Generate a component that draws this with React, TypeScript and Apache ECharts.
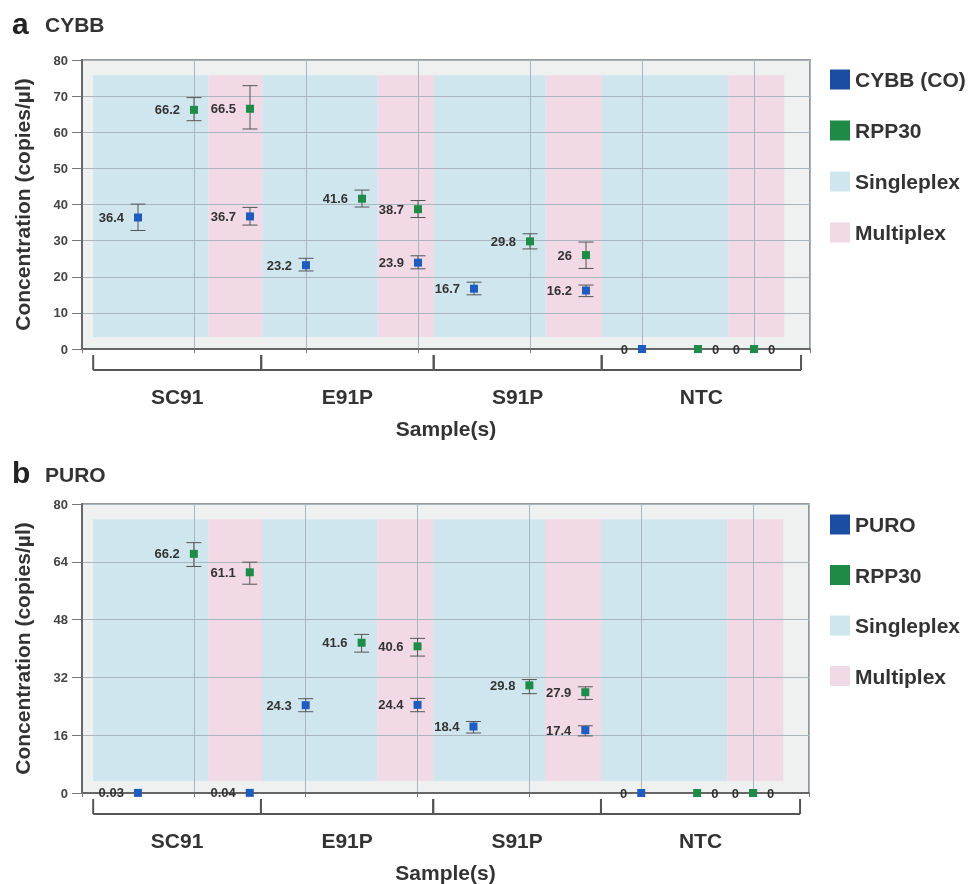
import React, { useEffect, useRef } from 'react';
import * as echarts from 'echarts';

// ---------- data ----------
const sampleNames = ['SC91', 'E91P', 'S91P', 'NTC'];
const sampleEdges = [0.1, 1.6, 3.14, 4.64, 6.42];
const singleplexBands = [[0.1, 1.13], [1.61, 2.64], [3.14, 4.14], [4.64, 5.77]];
const multiplexBands = [[1.13, 1.61], [2.64, 3.14], [4.14, 4.64], [5.77, 6.27]];
const bandRange = [3.3, 75.8];

const panelTitles = ['a', 'b'];
const panelGenes = ['CYBB', 'PURO'];
const targetNames = ['CYBB (CO)', 'PURO'];
const yIntervals = [10, 16];

// panel a: CYBB
const cybbX = [0.5, 1.5, 2, 3, 3.5, 4.5, 5, 6];
const cybbValues = [36.4, 36.7, 23.2, 23.9, 16.7, 16.2, 0, 0];
const cybbLow = [32.8, 34.3, 21.6, 22.2, 15.0, 14.5, 0, 0];
const cybbHigh = [40.1, 39.2, 25.1, 25.8, 18.5, 17.7, 0, 0];
const rppAX = [1, 1.5, 2.5, 3, 4, 4.5, 5.5, 6];
const rppAValues = [66.2, 66.5, 41.6, 38.7, 29.8, 26, 0, 0];
const rppALow = [63.2, 60.9, 39.3, 36.4, 27.7, 22.3, 0, 0];
const rppAHigh = [69.6, 72.9, 44.0, 41.1, 31.9, 29.6, 0, 0];

// panel b: PURO
const puroX = [0.5, 1.5, 2, 3, 3.5, 4.5, 5, 6];
const puroValues = [0.03, 0.04, 24.3, 24.4, 18.4, 17.4, 0, 0];
const puroLow = [0.03, 0.04, 22.5, 22.5, 16.6, 15.8, 0, 0];
const puroHigh = [0.03, 0.04, 26.1, 26.2, 19.8, 18.6, 0, 0];
const rppBX = [1, 1.5, 2.5, 3, 4, 4.5, 5.5, 6];
const rppBValues = [66.2, 61.1, 41.6, 40.6, 29.8, 27.9, 0, 0];
const rppBLow = [62.7, 57.8, 39.0, 37.9, 27.5, 25.9, 0, 0];
const rppBHigh = [69.3, 63.9, 43.9, 42.8, 31.4, 29.4, 0, 0];

// ---------- styles ----------
const FONT = "'Liberation Sans', Arial, Helvetica, sans-serif";
const NARROW = "'Liberation Sans Narrow', 'Liberation Sans', Arial, sans-serif";
const BLUE = '#1f5cbf';
const GREEN = '#1e8c48';
const LEGEND_BLUE = '#1b4ea2';
const LEGEND_GREEN = '#1f8a45';
const SINGLE_COLOR = '#d0e6ef';
const MULTI_COLOR = '#f1d9e5';
const GRID_LINE = '#a9b6bd';

const grids = [
  { left: 82, top: 60, width: 728, height: 289 },
  { left: 82, top: 504, width: 727, height: 290 },
];
const legendTops = [64, 509];

function buildPanel(i: number, tx: number[], tv: number[], tlo: number[], thi: number[], rx: number[], rv: number[], rlo: number[], rhi: number[]) {
  const labelBase = {
    show: true,
    position: 'left',
    distance: 10,
    fontSize: 13,
    fontWeight: 'bold',
    fontFamily: NARROW,
    color: '#333',
    formatter: (p: any) => String(p.value[1]),
  };
  const errData: number[][] = [];
  tx.forEach((x, k) => { if (thi[k] > tlo[k]) errData.push([x, tlo[k], thi[k]]); });
  rx.forEach((x, k) => { if (rhi[k] > rlo[k]) errData.push([x, rlo[k], rhi[k]]); });

  const bandSeries = (name: string, color: string, bands: number[][]) => ({
    type: 'scatter',
    name,
    xAxisIndex: i,
    yAxisIndex: i,
    data: [],
    z: 1,
    silent: true,
    itemStyle: { color, opacity: 1 },
    markArea: {
      silent: true,
      itemStyle: { color, borderWidth: 0, opacity: 1 },
      label: { show: false },
      data: bands.map(([a, b]) => [
        { xAxis: a, yAxis: bandRange[0] },
        { xAxis: b, yAxis: bandRange[1] },
      ]),
    },
  });

  return [
    bandSeries('Singleplex', SINGLE_COLOR, singleplexBands),
    bandSeries('Multiplex', MULTI_COLOR, multiplexBands),
    {
      type: 'custom',
      name: 'errorbars' + i,
      xAxisIndex: i,
      yAxisIndex: i,
      z: 4,
      silent: true,
      encode: { x: 0, y: [1, 2] },
      data: errData,
      renderItem: (params: any, api: any) => {
        const x = api.value(0);
        const top = api.coord([x, api.value(2)]);
        const bot = api.coord([x, api.value(1)]);
        const w = 7.5;
        const style = { stroke: '#555', lineWidth: 1 };
        return {
          type: 'group',
          children: [
            { type: 'line', shape: { x1: top[0], y1: top[1], x2: bot[0], y2: bot[1] }, style },
            { type: 'line', shape: { x1: top[0] - w, y1: top[1], x2: top[0] + w, y2: top[1] }, style },
            { type: 'line', shape: { x1: bot[0] - w, y1: bot[1], x2: bot[0] + w, y2: bot[1] }, style },
          ],
        };
      },
    },
    {
      type: 'scatter',
      name: targetNames[i],
      xAxisIndex: i,
      yAxisIndex: i,
      z: 5,
      clip: false,
      symbol: 'rect',
      symbolSize: 8,
      itemStyle: { color: BLUE, opacity: 1 },
      label: labelBase,
      data: tx.map((x, k) => [x, tv[k]]),
    },
    {
      type: 'scatter',
      name: 'RPP30',
      xAxisIndex: i,
      yAxisIndex: i,
      z: 5,
      clip: false,
      symbol: 'rect',
      symbolSize: 8,
      itemStyle: { color: GREEN, opacity: 1 },
      label: labelBase,
      data: rx.map((x, k) => (rv[k] === 0 ? { value: [x, rv[k]], label: { position: 'right' } } : [x, rv[k]])),
    },
    {
      type: 'custom',
      name: 'samples' + i,
      xAxisIndex: i,
      yAxisIndex: i,
      z: 4,
      silent: true,
      clip: false,
      encode: { x: [0, 1] },
      data: sampleNames.map((n, k) => [sampleEdges[k], sampleEdges[k + 1], k]),
      renderItem: (params: any, api: any) => {
        const p0 = api.coord([api.value(0), 0]);
        const p1 = api.coord([api.value(1), 0]);
        const k = api.value(2);
        const y0 = p0[1] + 6;
        const y1 = p0[1] + 21;
        const style = { stroke: '#555', lineWidth: 2 };
        return {
          type: 'group',
          children: [
            { type: 'line', shape: { x1: p0[0], y1: y0, x2: p0[0], y2: y1 }, style },
            { type: 'line', shape: { x1: p1[0], y1: y0, x2: p1[0], y2: y1 }, style },
            { type: 'line', shape: { x1: p0[0], y1: y1, x2: p1[0], y2: y1 }, style },
            {
              type: 'text',
              x: (p0[0] + p1[0]) / 2,
              y: p0[1] + 47,
              style: {
                text: sampleNames[k],
                fontSize: 21,
                fontWeight: 'bold',
                fontFamily: FONT,
                fill: '#333',
                align: 'center',
                verticalAlign: 'middle',
              },
            },
          ],
        };
      },
    },
  ];
}

export default function App() {
  const ref = useRef<HTMLDivElement>(null);
  useEffect(() => {
    if (!ref.current) return;
    const chart = echarts.init(ref.current, undefined, { renderer: 'svg' });
    const series = [
      ...buildPanel(0, cybbX, cybbValues, cybbLow, cybbHigh, rppAX, rppAValues, rppALow, rppAHigh),
      ...buildPanel(1, puroX, puroValues, puroLow, puroHigh, rppBX, rppBValues, rppBLow, rppBHigh),
    ];
    const option: any = {
      animation: false,
      textStyle: { fontFamily: FONT },
      grid: grids.map((g) => ({
        ...g,
        show: true,
        backgroundColor: '#eff1f1',
        borderColor: '#777',
        borderWidth: 1.5,
        containLabel: false,
      })),
      xAxis: grids.map((g, i) => ({
        type: 'value',
        gridIndex: i,
        min: 0,
        max: 6.5,
        interval: 1,
        z: 3,
        name: 'Sample(s)',
        nameLocation: 'middle',
        nameGap: 69,
        nameTextStyle: { fontSize: 21, fontWeight: 'bold', color: '#333', fontFamily: FONT },
        axisLine: { show: true, lineStyle: { color: '#666', width: 2 } },
        axisTick: { show: true, length: 4, lineStyle: { color: '#777' } },
        axisLabel: { show: false },
        splitLine: { show: true, lineStyle: { color: GRID_LINE, width: 1 } },
      })),
      yAxis: grids.map((g, i) => ({
        type: 'value',
        gridIndex: i,
        min: 0,
        max: 80,
        interval: yIntervals[i],
        z: 3,
        name: 'Concentration (copies/µl)',
        nameLocation: 'middle',
        nameGap: 49,
        nameTextStyle: { fontSize: 21, fontWeight: 'bold', color: '#333', fontFamily: FONT },
        axisLine: { show: true, lineStyle: { color: '#666', width: 2 } },
        axisTick: { show: true, length: 10, lineStyle: { color: '#777' } },
        axisLabel: { fontSize: 13, fontWeight: 'bold', color: '#444', margin: 14, fontFamily: FONT },
        splitLine: { show: true, lineStyle: { color: GRID_LINE, width: 1 } },
      })),
      legend: legendTops.map((top, i) => ({
        top,
        left: 825,
        orient: 'vertical',
        itemWidth: 20,
        itemHeight: 20,
        itemGap: i === 0 ? 30 : 29.5,
        selectedMode: false,
        textStyle: { fontSize: 21, fontWeight: 'bold', color: '#333', fontFamily: FONT },
        data: [
          { name: targetNames[i], icon: 'rect', itemStyle: { color: LEGEND_BLUE, opacity: 1 } },
          { name: 'RPP30', icon: 'rect', itemStyle: { color: LEGEND_GREEN, opacity: 1 } },
          { name: 'Singleplex', icon: 'rect', itemStyle: { color: SINGLE_COLOR, opacity: 1 } },
          { name: 'Multiplex', icon: 'rect', itemStyle: { color: MULTI_COLOR, opacity: 1 } },
        ],
      })),
      graphic: [
        { type: 'text', x: 12, y: 23, style: { text: panelTitles[0], fontSize: 30, fontWeight: 'bold', fontFamily: FONT, fill: '#222', verticalAlign: 'middle' } },
        { type: 'text', x: 45, y: 24, style: { text: panelGenes[0], fontSize: 21, fontWeight: 'bold', fontFamily: FONT, fill: '#333', verticalAlign: 'middle' } },
        { type: 'text', x: 12, y: 472, style: { text: panelTitles[1], fontSize: 30, fontWeight: 'bold', fontFamily: FONT, fill: '#222', verticalAlign: 'middle' } },
        { type: 'text', x: 45, y: 474, style: { text: panelGenes[1], fontSize: 21, fontWeight: 'bold', fontFamily: FONT, fill: '#333', verticalAlign: 'middle' } },
      ],
      series,
    };
    chart.setOption(option);
    return () => chart.dispose();
  }, []);
  return <div ref={ref} style={{ position: 'fixed', left: 0, top: 0, width: 972, height: 884 }} />;
}
